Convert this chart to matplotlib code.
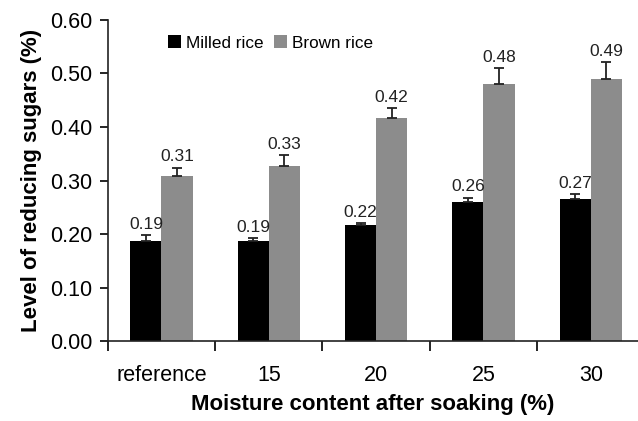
import numpy as np
import matplotlib
matplotlib.use("Agg")
import matplotlib.pyplot as plt
from matplotlib.ticker import FixedLocator

plt.rcParams["font.family"] = ["Liberation Sans", "DejaVu Sans"]

categories = ["reference", "15", "20", "25", "30"]
milled = [0.187, 0.186, 0.216, 0.259, 0.266]
milled_err = [0.011, 0.007, 0.005, 0.009, 0.009]
milled_lbl = ["0.19", "0.19", "0.22", "0.26", "0.27"]
brown = [0.309, 0.327, 0.417, 0.480, 0.490]
brown_err = [0.015, 0.021, 0.018, 0.030, 0.031]
brown_lbl = ["0.31", "0.33", "0.42", "0.48", "0.49"]

W = 0.29
x = np.arange(len(categories))

fig = plt.figure(figsize=(6.38, 4.21), dpi=100)
ax = fig.add_axes([0.169, 0.19, 0.831, 0.7625])

for vals, errs, lbls, off, color, name in [
    (milled, milled_err, milled_lbl, -W / 2, "#000000", "Milled rice"),
    (brown, brown_err, brown_lbl, W / 2, "#8c8c8c", "Brown rice"),
]:
    ax.bar(x + off, vals, W, color=color, label=name, zorder=2)
    ax.errorbar(x + off, vals, yerr=[np.zeros(len(errs)), errs], fmt="none",
                ecolor="#222222", elinewidth=1.3, capsize=3.8, capthick=1.3, zorder=3)
    for xi, v, e, t in zip(x + off, vals, errs, lbls):
        ax.text(xi, v + e + 0.006, t, ha="center", va="bottom", fontsize=12.5, color="#222222")

ax.set_xlim(-0.5, 4.44)
ax.set_ylim(0, 0.6)
ax.set_yticks(np.arange(0, 0.61, 0.1))
ax.set_yticklabels([f"{v:.2f}" for v in np.arange(0, 0.61, 0.1)], fontsize=15.5)
ax.set_xticks(x)
ax.set_xticklabels(categories, fontsize=15.5)
ax.tick_params(axis="x", which="major", length=0, pad=17)
ax.xaxis.set_minor_locator(FixedLocator(np.arange(-0.5, 4.6, 1.0)))
ax.tick_params(axis="x", which="minor", length=7, width=1.2, direction="out")
ax.tick_params(axis="y", length=6, width=1.2, direction="out", pad=5)
for s in ["top", "right"]:
    ax.spines[s].set_visible(False)
for s in ["left", "bottom"]:
    ax.spines[s].set_linewidth(1.2)
    ax.spines[s].set_color("#222222")

ax.set_ylabel("Level of reducing sugars (%)", fontsize=16, fontweight="bold", labelpad=6)
ax.set_xlabel("Moisture content after soaking (%)", fontsize=16, fontweight="bold", labelpad=6)

ax.legend(loc="upper left", bbox_to_anchor=(0.085, 1.0), ncol=2, frameon=False, fontsize=12.3,
          handlelength=0.75, handleheight=0.75, handletextpad=0.3, columnspacing=0.6)

fig.savefig("out.png", dpi=100)
